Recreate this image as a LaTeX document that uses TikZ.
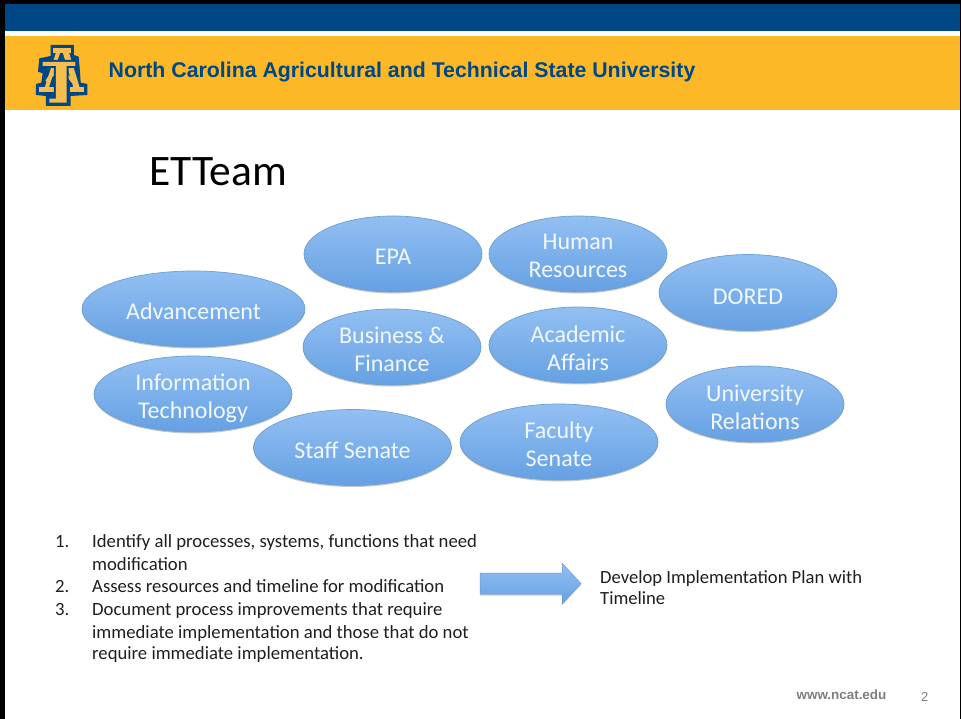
\documentclass[tikz,border=0pt]{standalone}
\usepackage{fontspec}
\setmainfont{Carlito}
\newfontfamily\arialf{Liberation Sans}
\usetikzlibrary{shapes.geometric,shadows}
\definecolor{navy}{HTML}{004785}
\definecolor{gold}{HTML}{FDB827}
\definecolor{logogold}{HTML}{F6BE4F}
\definecolor{ebtop}{HTML}{A9CFFA}
\definecolor{ebbot}{HTML}{4F91DB}
\definecolor{ebline}{HTML}{6C9FD2}
\definecolor{greytxt}{HTML}{7F7F7F}
\pgfdeclareverticalshading{bubshade}{100bp}{color(0bp)=(ebbot); color(100bp)=(ebtop)}
\tikzset{
  bubble/.style={ellipse,draw=ebline,line width=0.7pt,shading=bubshade,
    inner sep=0pt,minimum height=76,
    drop shadow={shadow xshift=0pt,shadow yshift=-1.5pt,opacity=0.22,fill=black}},
  bubtxt/.style={text=white!85!ebtop,align=center,inner sep=0pt,yshift=-2.4pt,
    font=\fontsize{24}{28}\selectfont},
  small/.style={minimum width=178},
  mid/.style={minimum width=198},
  wide/.style={minimum width=223},
  listtxt/.style={anchor=base west,inner sep=0pt,text=black!88,font=\fontsize{18.7}{20}\selectfont},
  plantxt/.style={anchor=base west,inner sep=0pt,text=black!88,font=\fontsize{18.6}{20}\selectfont},
}
\begin{document}
\begin{tikzpicture}[x=1pt,y=-1pt]
\useasboundingbox (0,0) rectangle (961,719);
\fill[white] (0,0) rectangle (961,719);
% header bands
\fill[navy] (5,4) rectangle (960,31);
\fill[gold] (5,36) rectangle (960,110);
% frame
\fill[black] (0,0) rectangle (961,4);
\fill[black] (0,0) rectangle (5,719);
\fill[black] (959.5,0) rectangle (961,719);
% logo
\begin{scope}[shift={(30pt,-40pt)},x=0.3333pt,y=-0.3333pt]
\fill[navy] (62,15)--(132,15)--(132,45)--(146,50)--(150,95)--(152,128)--(172,132)--(172,165)--(122,168)--(122,198)--(48,198)--(48,168)--(18,165)--(18,132)--(34,128)--(38,100)--(24,95)--(28,55)--(62,48)--cycle;
\draw[logogold,line width=4pt] (86,32)--(48,150);
\draw[logogold,line width=6pt] (106,32)--(142,150);
\fill[logogold] (70,24)--(122,24)--(122,38)--(70,38)--cycle;
\fill[logogold] (28,142)--(72,142)--(72,156)--(28,156)--cycle;
\fill[logogold] (120,142)--(163,142)--(163,156)--(120,156)--cycle;
\draw[logogold,line width=3pt] (50,125) .. controls (65,92) and (105,88) .. (128,125);
\fill[navy] (30,60)--(146,60)--(146,84)--(116,84)--(116,165)--(72,165)--(72,84)--(30,84)--cycle;
\fill[logogold] (38,66)--(136,66)--(136,78)--(110,78)--(110,188)--(58,188)--(58,176)--(78,176)--(78,78)--(38,78)--cycle;
\end{scope}
\node[anchor=base west,inner sep=0pt,text=navy,font=\arialf\bfseries\fontsize{21.3}{24}\selectfont] (head) at (108.5,77.5) {North Carolina Agricultural and Technical State University};
\node[anchor=base west,inner sep=0pt,text=black,font=\fontsize{43.5}{46}\selectfont] (title) at (149,185.5) {ETTeam};
% bubbles
\node[bubble,small,label={[bubtxt]center:EPA}] (epa) at (393,254) {};
\node[bubble,small,label={[bubtxt,yshift=1pt]center:Human\\Resources}] (hr) at (578,254) {};
\node[bubble,small,label={[bubtxt,yshift=-2pt]center:DORED}] (dored) at (748,292.5) {};
\node[bubble,wide,label={[bubtxt]center:Advancement}] (adv) at (193.5,309) {};
\node[bubble,small,label={[bubtxt]center:Business \&\\Finance}] (bf) at (392,347) {};
\node[bubble,small,label={[bubtxt,yshift=-1pt]center:Academic\\Affairs}] (aa) at (578,345) {};
\node[bubble,mid,label={[bubtxt,yshift=-2pt]center:Information\\Technology}] (it) at (193,394) {};
\node[bubble,small,label={[bubtxt,yshift=-1pt]center:University\\Relations}] (ur) at (755,404) {};
\node[bubble,mid,label={[bubtxt]center:Staff Senate}] (ss) at (352.5,447.5) {};
\node[bubble,mid,label={[bubtxt]center:Faculty\\Senate}] (fs) at (559,442) {};
% arrow
\path[draw=ebline,line width=0.5pt,shading=bubshade,drop shadow={shadow xshift=0pt,shadow yshift=-1.5pt,opacity=0.2,fill=black}]
 (480,573)--(562,573)--(562,563)--(581,583.5)--(562,604)--(562,594)--(480,594)--cycle;
% list
\node[listtxt] (n1) at (55,547) {1.};
\node[listtxt] (l1) at (92,547) {Identify all processes, systems, functions that need};
\node[listtxt] (l1b) at (92,570) {modification};
\node[listtxt] (n2) at (55,592.5) {2.};
\node[listtxt] (l2) at (92,592.5) {Assess resources and timeline for modification};
\node[listtxt] (n3) at (55,615) {3.};
\node[listtxt] (l3) at (92,615) {Document process improvements that require};
\node[listtxt] (l3b) at (92,638) {immediate implementation and those that do not};
\node[listtxt] (l3c) at (92,659) {require immediate implementation.};
\node[plantxt] (p1) at (600,583) {Develop Implementation Plan with};
\node[plantxt] (p2) at (600,604) {Timeline};
% footer
\node[anchor=base west,inner sep=0pt,text=greytxt,font=\arialf\bfseries\fontsize{13.4}{15}\selectfont] (web) at (796.5,699) {www.ncat.edu};
\node[anchor=base west,inner sep=0pt,text=greytxt,font=\arialf\fontsize{13}{15}\selectfont] (pg) at (921,701) {2};
\end{tikzpicture}
\end{document}
